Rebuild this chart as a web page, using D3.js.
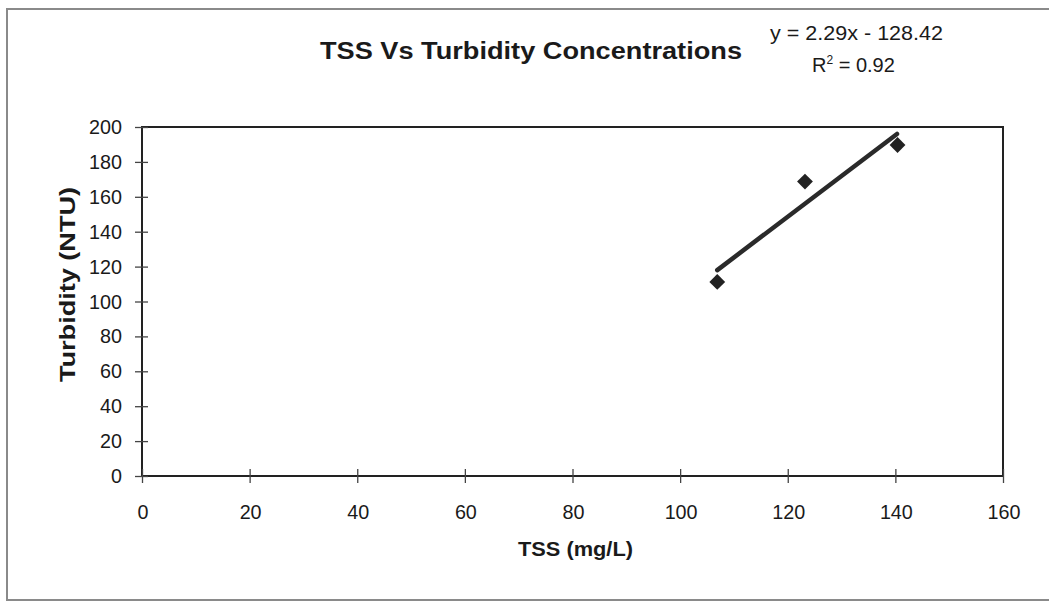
<!DOCTYPE html>
<html><head><meta charset="utf-8">
<script src="https://cdn.jsdelivr.net/npm/d3@7"></script>
<style>body{margin:0;background:#fff}svg{display:block}text{font-family:"Liberation Sans",Arial,sans-serif;fill:#1a1a1a}</style>
</head><body><svg id="c" width="1049" height="602"></svg>
<script>
const tssValues = [106.9, 123.2, 140.4];
const turbidityValues = [111.2, 168.7, 189.7];
const trendX = [106.9, 140.3];
const trendY = [118, 196];
const xTicks = [0, 20, 40, 60, 80, 100, 120, 140, 160];
const yTicks = [0, 20, 40, 60, 80, 100, 120, 140, 160, 180, 200];
const equationText = "y = 2.29x - 128.42";
const r2Text = "0.92";
const titleText = "TSS Vs Turbidity Concentrations";
const xTitle = "TSS (mg/L)";
const yTitle = "Turbidity (NTU)";

const svg = d3.select("#c");
const L = 142, R = 1003, T = 127, B = 476;
const x = d3.scaleLinear().domain([0, 160]).range([L, R]);
const y = d3.scaleLinear().domain([0, 200]).range([B, T]);

// outer frame
svg.append("path").attr("d", `M1060,600 L7,600 L7,9 L1060,9`).attr("fill","none").attr("stroke","#8a8a8a").attr("stroke-width",2);

// plot border
svg.append("rect").attr("x",L).attr("y",T).attr("width",R-L).attr("height",B-T)
  .attr("fill","none").attr("stroke","#222").attr("stroke-width",2);

// axes with cross ticks
const xa = svg.append("g").attr("transform",`translate(0,${B})`)
  .call(d3.axisBottom(x).tickValues(xTicks).tickSize(0).tickPadding(0));
xa.select(".domain").remove();
xa.selectAll(".tick text").remove();
xa.selectAll(".tick").append("line").attr("y1",-7).attr("y2",7).attr("stroke","#444").attr("stroke-width",1.3);
svg.append("g").selectAll("text").data(xTicks).join("text")
  .attr("x",d=>x(d)+1).attr("y",519).attr("text-anchor","middle").style("font-size","19.5px")
  .attr("textLength",d=>String(d).length*11).attr("lengthAdjust","spacingAndGlyphs").text(d=>d);

const ya = svg.append("g").attr("transform",`translate(${L},0)`)
  .call(d3.axisLeft(y).tickValues(yTicks).tickSize(0).tickPadding(0));
ya.select(".domain").remove();
ya.selectAll(".tick text").remove();
ya.selectAll(".tick").append("line").attr("x1",-7).attr("x2",6).attr("stroke","#444").attr("stroke-width",1.3);
svg.append("g").selectAll("text").data(yTicks).join("text")
  .attr("x",122).attr("y",d=>y(d)+7).attr("text-anchor","end").style("font-size","19.5px")
  .attr("textLength",d=>String(d).length*11).attr("lengthAdjust","spacingAndGlyphs").text(d=>d);

// trendline
svg.append("line").attr("x1",x(trendX[0])).attr("y1",y(trendY[0]))
  .attr("x2",x(trendX[1])).attr("y2",y(trendY[1]))
  .attr("stroke","#2a2a2a").attr("stroke-width",4.5).attr("stroke-linecap","round");

// points (diamonds)
svg.append("g").selectAll("path").data(tssValues).join("path")
  .attr("d", d3.symbol(d3.symbolSquare, 125)())
  .attr("transform",(d,i)=>`translate(${x(d)},${y(turbidityValues[i])}) rotate(45)`)
  .attr("fill","#222");

// titles
svg.append("text").attr("x",320).attr("y",59)
  .style("font-size","23.5px").style("font-weight","bold")
  .attr("textLength",422).attr("lengthAdjust","spacingAndGlyphs").text(titleText);
svg.append("text").attr("x",518).attr("y",556)
  .style("font-size","21px").style("font-weight","bold")
  .attr("textLength",115).attr("lengthAdjust","spacingAndGlyphs").text(xTitle);
svg.append("text").attr("transform","translate(75,382) rotate(-90)")
  .style("font-size","21.5px").style("font-weight","bold")
  .attr("textLength",195).attr("lengthAdjust","spacingAndGlyphs").text(yTitle);

// equation
svg.append("text").attr("x",770).attr("y",40).style("font-size","20px")
  .attr("textLength",173).attr("lengthAdjust","spacingAndGlyphs").text(equationText);
const r = svg.append("text").attr("x",812).attr("y",72).style("font-size","20px");
r.append("tspan").text("R");
r.append("tspan").attr("dy",-8).style("font-size","12px").text("2");
r.append("tspan").attr("dy",8).text(" = " + r2Text);
</script></body></html>
